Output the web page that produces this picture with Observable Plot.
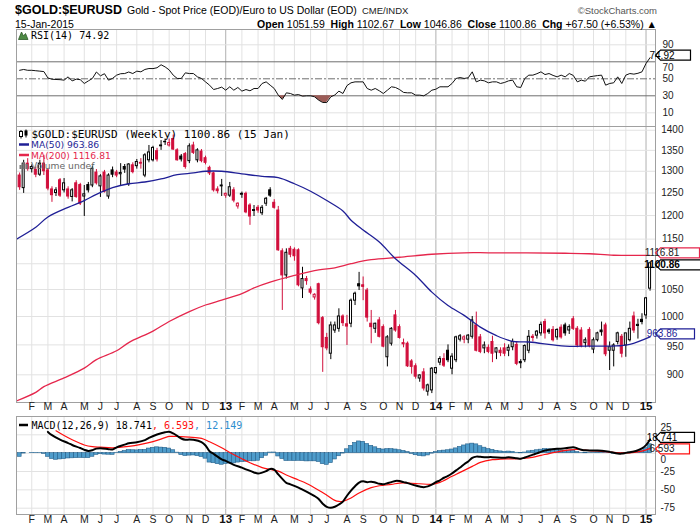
<!DOCTYPE html>
<html><head><meta charset="utf-8">
<script src="https://cdn.jsdelivr.net/npm/d3@7"></script>
<script src="https://cdn.jsdelivr.net/npm/@observablehq/plot@0.6"></script>
<style>
body{margin:0;background:#fff;}
#chart{position:relative;width:700px;height:530px;overflow:hidden;}
#chart .panel{position:absolute;left:0;}
</style></head><body><div id="chart"></div>
<script>
// ---------- data (weekly candles, Mondays from 16 Jan 2012) ----------
const opens = [1290,1261,1318,1305,1303,1292,1318,1302,1258,1250,1279,1256,1258,1241,1272,1268,1242,1268,1267,1297,1265,1297,1242,1302,1297,1293,1310,1270,1314,1312,1320,1290,1326,1326,1348,1360,1370,1362,1378,1350,1335,1341,1324,1362,1326,1347,1331,1308,1295,1258,1265,1244,1244,1256,1220,1246,1248,1222,1210,1217,1205,1226,1256,1228,1211,1125,1077,1130,1128,1127,1052,1070,1050,1035,1060,997,962,935,975,978,1000,986,987,1029,1060,1058,1048,987,978,993,981,929,952,1002,981,953,952,922,914,894,904,873,875,903,920,926,940,910,924,959,959,959,964,984,963,944,945,955,937,940,944,940,946,950,921,924,940,964,966,970,990,975,976,963,980,984,975,995,978,975,953,976,942,958,975,984,940,940,955,964,949,958,1000,983,994,1002,1051.59];
const highs = [1296,1326,1330,1315,1310,1326,1338,1306,1264,1262,1283,1283,1264,1260,1278,1272,1267,1274,1312,1304,1292,1302,1294,1310,1302,1318,1316,1318,1320,1328,1330,1342,1362,1360,1355,1374,1378,1378,1388,1354,1340,1345,1366,1370,1354,1352,1336,1312,1298,1264,1281,1250,1274,1262,1228,1252,1252,1226,1222,1222,1222,1240,1262,1235,1220,1130,1130,1135,1132,1130,1093,1075,1055,1042,1062,1000,970,990,990,1014,1003,1002,1032,1045,1083,1074,1052,1011,988,998,985,966,980,1011,985,960,955,925,918,900,910,885,912,912,930,935,950,935,965,968,966,968,1000,1008,968,955,950,965,945,945,952,950,960,955,925,950,975,968,975,990,995,978,982,978,985,988,985,1000,982,980,962,980,962,972,990,988,955,952,972,968,970,990,1008,995,1005,1035,1102.67];
const lows = [1256,1249,1300,1296,1285,1288,1290,1255,1229,1242,1240,1250,1236,1230,1238,1222,1198,1250,1262,1268,1240,1250,1236,1285,1285,1267,1295,1265,1294,1305,1305,1285,1320,1322,1322,1350,1362,1358,1350,1324,1322,1305,1318,1340,1320,1320,1315,1290,1252,1248,1242,1238,1240,1228,1214,1238,1204,1179,1198,1205,1200,1220,1240,1214,1125,1011,1070,1112,1105,1055,1033,1058,1040,1030,985,904,940,925,970,972,982,949,980,1020,1048,1029,990,952,970,962,945,913,948,972,960,945,912,901,893,888,874,866,870,900,915,912,920,900,920,955,952,952,960,938,935,935,935,920,925,930,930,930,940,915,910,920,935,955,960,965,960,968,955,958,960,965,968,975,945,945,945,945,935,955,965,930,907,913,950,928,929,955,970,960,985,995,1046.86];
const closes = [1263,1318,1305,1310,1292,1318,1300,1260,1245,1256,1244,1272,1242,1256,1241,1226,1247,1256,1306,1272,1288,1252,1290,1292,1290,1296,1304,1316,1298,1322,1318,1338,1345,1356,1328,1362,1371,1368,1352,1326,1328,1310,1360,1344,1350,1324,1320,1295,1256,1254,1267,1248,1263,1233,1226,1248,1207,1198,1212,1211,1217,1237,1244,1217,1127,1077,1122,1118,1115,1058,1070,1066,1044,1040,988,946,944,984,984,1000,988,982,1029,1042,1056,1055,998,981,987,964,947,963,978,975,962,951,914,913,897,899,878,883,910,911,926,915,924,930,963,965,963,966,993,940,938,949,938,935,944,936,935,945,955,918,919,948,964,962,973,985,970,972,958,976,963,970,981,978,949,948,958,948,958,970,972,934,946,949,970,935,970,978,975,985,990,1033.36,1100.86];

const ma50Weeks  = [-1,4,7,12,16,19,23,27,31,35,39,43,46,50,55,60,64,68,72,76,80,82,85,89,93,98,102,106,110,114,118,122,126,135,142,147,151,156];
const ma50Values = [1149,1175,1197,1218,1233,1247,1262,1271,1275,1282,1292,1296,1300,1300,1294,1288,1285,1271,1254,1233,1210,1190,1169,1144,1110,1077,1045,1020,1002,981,966,956,955,948,948,948,951,963.86];
const ma200Weeks  = [-1,4,6,11,16,19,24,27,33,37,42,46,50,55,58,62,68,74,78,82,87,94,102,110,116,135,141,147,156];
const ma200Values = [858,872,881,895,911,925,940,954,974,991,1009,1021,1030,1042,1053,1064,1077,1088,1092,1100,1108,1113,1119,1122,1122,1121,1120,1117,1116.81];

const rsiValues = [60,61,60,60,59.5,59,58.5,51,49.5,49.2,49,48.4,52.3,47.5,49.6,49,44.5,47.5,50.4,58,53.5,56,48.4,50.5,54.3,56,56.2,58,56.2,59,58.2,61,62.1,62,63,66.5,64,60.5,54.3,50.4,50.4,57,56.2,56.2,52.3,50.4,46.4,42.5,37.4,38.6,40.2,36.6,40.6,36.6,39.8,35.5,37.4,35.9,38.6,38.6,44.5,46.4,42.5,38.6,30.8,25.7,33.5,32.7,30.8,31.5,29.6,30,30,28.8,24.9,22.1,22.1,28.8,31,35.5,32.7,42,45.3,46.4,46.4,46.4,38.6,36.6,38.6,35.9,32.7,36.6,40.6,39.8,37.4,34,33.5,33.5,30.8,30.8,30,32.7,36.6,37.8,40.6,40.6,40.6,44.5,50.4,51.5,50.4,51.2,58.2,46.4,48.4,47.6,45.3,46.4,46.4,44.5,45.7,47.6,48.4,40.6,39.8,50.4,54.3,54.3,56,58.2,55,56.2,54,52.3,54.3,52.3,56.2,54,46.4,48.4,47.2,52.3,53.1,53.8,54.3,42.5,44.5,45.3,52.3,44.5,54.3,56.2,55.5,56.5,58.2,68,74.92];

const macdWeeks  = [7,8,10,12,13,15,16,17,18,19,20,22,23,24,26,27,29,31,32,34,36,37,38,39,40,41,42,43,45,46,47,48,50,51,53,55,56,58,59,60,61,62,63,64,65,66,67,69,70,72,73,74,75,76,77,78,79,80,81,82,83,84,85,86,87,88,89,90,91,92,93,94,95,96,97,98,99,100,101,102,103,104,105,106,107,108,109,110,111,112,113,114,115,117,120,121,123,124,125,126,127,128,129,130,131,133,135,137,138,139,140,143,145,146,147,148,149,150,151,152,153,154,155,156];
const macdValues = [29,24.5,18.5,13.8,11.2,7,4.5,3,4,6.2,6.8,5.5,5,8,11.6,13.5,15,17.8,20.8,25.5,28.5,29.1,27,23.5,20,18.3,18.6,18.2,15,10.5,2.7,-1,-8.5,-10.5,-15.9,-19.7,-22,-26.3,-27.7,-26.5,-24.5,-21.5,-22.5,-29,-35,-40.5,-42.5,-47,-49.7,-55.4,-58.5,-62.5,-69,-73.2,-74.5,-73,-70,-66,-58,-51,-45,-40,-38.4,-39.5,-38.8,-40,-41.8,-42.4,-40.9,-39.5,-37.8,-38,-39.5,-40.8,-42.5,-44.1,-45.5,-46.3,-45.3,-43,-39.5,-37,-33.5,-31,-27.5,-23.5,-19.5,-15,-11.3,-6.3,-4.7,-5,-5.4,-5.4,-6.2,-5.6,-6.8,-7.5,-6,-4,-2,-0.2,1.8,3.7,4.8,5.9,6.6,8.2,6.5,4.8,3.9,3.7,2.8,1.8,0.5,-0.4,-0.6,0.4,1.3,2.3,4,6.5,11,18.741];
const signalWeeks  = [9,11,13,16,18,20,23,27,30,33,36,37,40,42,45,47,50,52,55,57,60,62,64,66,69,71,74,76,78,79,80,82,84,87,89,92,94,97,99,102,104,107,109,112,114,117,119,121,124,126,129,131,134,136,138,141,144,146,149,151,154,156];
const signalValues = [30.5,24,18.2,11.2,8.9,8.2,7.3,9.3,12,15.7,21.2,22.8,22.6,21.9,20.2,15.5,7.3,1,-7.6,-13,-19.6,-22.3,-24.5,-29.8,-36.6,-41.3,-50.5,-57.3,-64.4,-65.8,-65.5,-61,-54.2,-47,-44.4,-42.6,-40.7,-41,-41.7,-42.4,-39.8,-31.5,-26.2,-18,-12.6,-8.9,-8.2,-7.8,-7.3,-6.5,-3,-0.5,2.8,4.4,5,3.5,2.5,1.5,0.5,0.5,2.8,6.593];
const histValues = [-5,-0.5,0,0.5,0.5,0.3,-1,-5,-8,-9,-8.5,-8,-7.2,-7,-6.8,-6.5,-6.7,-6.8,-4.9,-2.3,-1.4,-1.9,-2.1,-2.3,0.4,1.8,2.9,4.2,4,3.8,4.4,4.5,6.3,7.3,8,7.6,7.3,6.3,4,0.7,-2.6,-3.9,-3.3,-3.1,-4,-5.2,-7.5,-12.8,-13.7,-15,-15.8,-14.7,-14,-13.9,-12.8,-12.1,-11.7,-11,-11.1,-10.3,-6.9,-3.5,0.8,0.9,-4.5,-8,-10.7,-10.5,-10.7,-10.4,-10.7,-11.2,-11.1,-11.1,-12,-15,-15.9,-13.5,-8.6,-4.2,-0.5,5.3,10,14,16,15.5,12.5,10,8,6,5,5.5,5.5,5,4,3,1.5,-1,-2.8,-3.8,-4.4,-3.1,-0.6,1.5,2.8,3.5,4,5,6.5,8.5,10.5,12,13,12,9.5,7.5,5.5,4.5,3.2,2.4,1.8,2.2,1.6,0.6,-0.2,0.9,2.5,3.3,4,4.8,5.5,5.3,4.8,4.2,3.4,3,3,3.5,1.5,0.3,-0.1,0.3,0.5,0.9,0.7,0.8,0.3,-0.7,-1.2,-1.1,-0.1,0.8,1.1,2.1,3.7,6.7,12.149];

const priceTicks = [900,950,1000,1050,1150,1200,1250,1300,1350,1400];
const priceGrid  = [900,950,1000,1050,1100,1150,1200,1250,1300,1350,1400];
const rsiTicks   = [10,30,50,70,90];
const macdTicks  = [25,0,-25,-50,-75];
const monthLetters = ["J","F","M","A","M","J","J","A","S","O","N","D"];

// ---------- helpers ----------
const DAY = 864e5;
const weekStart = Date.UTC(2012, 0, 16);
const dateOf = w => new Date(weekStart + w * 7 * DAY);
const xDomain = [new Date(Date.UTC(2012, 0, 10, 14)), new Date(Date.UTC(2015, 0, 21, 10))];
const SANS = "'Liberation Sans', Arial, sans-serif";
const MONO = "'DejaVu Sans Mono', monospace";
const DEJA = "'DejaVu Sans', sans-serif";
const RED = "#d10f3c", NAVY = "#1f1f96", MA200C = "#e5264c";

const candles = closes.map((c, i) => {
  const prev = i ? closes[i - 1] : opens[i];
  const col = c < prev ? RED : "#000";
  return {date: dateOf(i), open: opens[i], high: highs[i], low: lows[i], close: c, color: col, fill: c >= opens[i] ? "#fff" : col};
});
const rsiData = rsiValues.map((v, i) => ({date: dateOf(i), rsi: v}));
const histData = histValues.map((v, i) => ({date: dateOf(i), h: v}));
const macdData = macdWeeks.map((w, k) => ({date: dateOf(w), v: macdValues[k]}));
const signalData = signalWeeks.map((w, k) => ({date: dateOf(w), v: signalValues[k]}));
const ma50Data = ma50Weeks.map((w, k) => ({date: dateOf(w), v: ma50Values[k]}));
const ma200Data = ma200Weeks.map((w, k) => ({date: dateOf(w), v: ma200Values[k]}));

const monthTicks = [];
for (let y = 2012; y <= 2015; y++) for (let m = 0; m < 12; m++) {
  const d = d3.utcMonday.ceil(new Date(Date.UTC(y, m, 1)));
  if (d >= xDomain[0] && d <= xDomain[1]) monthTicks.push({date: d, year: m === 0, label: m === 0 ? String(y % 100) : monthLetters[m]});
}

// value label on the right axis (arrow box), placed with the panel's y scale
function valueBox(value, label, o) {
  return (index, scales, values, dim) => {
    const y = scales.y(value) + (o.dy || 0);
    const x0 = dim.width - dim.marginRight;
    const h = o.h || 10, w = o.w;
    const g = d3.create("svg:g");
    g.append("path")
      .attr("d", `M${x0 + 0.5},${y}L${x0 + 5.5},${y - h / 2}H${x0 + 5.5 + w}V${y + h / 2}H${x0 + 5.5}Z`)
      .attr("fill", "#fff").attr("stroke", o.stroke).attr("stroke-width", 1.2);
    g.append("text").attr("x", x0 + 7).attr("y", y).attr("dy", "0.36em")
      .attr("fill", o.color).attr("font-size", (o.size || 10) + "px").attr("font-family", SANS)
      .attr("font-weight", o.bold ? "bold" : "normal").text(label);
    return g.node();
  };
}
const monthGrid = () => Plot.ruleX(monthTicks, {x: "date", stroke: d => d.year ? "#b0b0b0" : "#e2e2e2"});
const common = {
  width: 700, marginLeft: 16, marginRight: 45,
  x: {type: "utc", domain: xDomain, axis: null},
  color: {type: "identity"},
  style: {background: "none", overflow: "visible", fontFamily: SANS, fontSize: "10px"}
};
const monthLabels = (dy) => [
  Plot.text(monthTicks.filter(d => !d.year), {x: "date", text: "label", frameAnchor: "bottom", dy, fontSize: 10.5, fill: "#222"}),
  Plot.text(monthTicks.filter(d => d.year), {x: "date", text: "label", frameAnchor: "bottom", dy, fontSize: 11.5, fontWeight: "bold", fill: "#111"})
];
const tickText = (ticks, o) => Plot.text(ticks, {y: d => d, text: d => String(d), frameAnchor: "right", fontSize: 10, fill: "#222", ...o});

// ---------- RSI panel ----------
const rsiLast = rsiValues[rsiValues.length - 1];
const rsiPlot = Plot.plot({
  ...common, height: 97, marginTop: 0, marginBottom: 0,
  y: {domain: [-6.1, 108], axis: null},
  marks: [
    monthGrid(),
    Plot.ruleY([10, 90], {stroke: "#e2e2e2"}),
    Plot.ruleY([30, 70], {stroke: "#6e6e6e"}),
    Plot.ruleY([50], {stroke: "#6e6e6e", strokeDasharray: "7,2,2,2"}),
    Plot.areaY(rsiData, {x: "date", y1: () => 30, y2: d => Math.min(d.rsi, 30), fill: "#9c5c57"}),
    Plot.line(rsiData, {x: "date", y: "rsi", stroke: "#111", strokeWidth: 1}),
    Plot.frame({stroke: "#a0a0a0"}),
    tickText(rsiTicks.filter(t => t !== 70), {dx: 7, textAnchor: "start"}),
    tickText([70], {dx: 7, dy: 6, textAnchor: "start"}),
    valueBox(rsiLast, rsiLast.toFixed(2), {stroke: "#000", color: "#000", w: 30, dy: -2})
  ]
});

// ---------- price panel ----------
const last = closes.length - 1;
const ma50Last = ma50Values[ma50Values.length - 1], ma200Last = ma200Values[ma200Values.length - 1];
const mainPlot = Plot.plot({
  ...common, height: 290, marginTop: 0, marginBottom: 14,
  y: {type: "log", domain: [856.1, 1409.5], axis: null},
  marks: [
    monthGrid(),
    Plot.ruleY(priceGrid, {stroke: "#e2e2e2"}),
    Plot.ruleX(candles, {x: "date", y1: "low", y2: "high", stroke: "color", strokeWidth: 1}),
    Plot.rect(candles, {x1: d => new Date(+d.date - 1.75 * DAY), x2: d => new Date(+d.date + 1.75 * DAY), y1: "open", y2: "close", fill: "fill", stroke: "color", strokeWidth: 1}),
    Plot.line(ma200Data, {x: "date", y: "v", stroke: MA200C, strokeWidth: 1.3, curve: "catmull-rom", clip: true}),
    Plot.line(ma50Data, {x: "date", y: "v", stroke: NAVY, strokeWidth: 1.3, curve: "catmull-rom", clip: true}),
    Plot.frame({stroke: "#a0a0a0"}),
    tickText(priceTicks.filter(t => t !== 950), {dx: 28, textAnchor: "end"}),
    tickText([950], {dx: 28, dy: 1.5, textAnchor: "end"}),
    ...monthLabels(7),
    valueBox(ma200Last, ma200Last.toFixed(2), {stroke: MA200C, color: "#222", w: 39, dy: -2}),
    valueBox(closes[last], closes[last].toFixed(2), {stroke: "#000", color: "#000", bold: true, w: 41, dy: 2}),
    valueBox(ma50Last, ma50Last.toFixed(2), {stroke: NAVY, color: NAVY, w: 34, dy: -2.5})
  ]
});

// ---------- MACD panel ----------
const macdLast = macdValues[macdValues.length - 1], sigLast = signalValues[signalValues.length - 1];
const macdPlot = Plot.plot({
  ...common, height: 114, marginTop: 0, marginBottom: 16,
  y: {domain: [-83.6, 50], axis: null},
  marks: [
    monthGrid(),
    Plot.ruleY(macdTicks, {stroke: "#e2e2e2"}),
    Plot.rect(histData, {x1: d => new Date(+d.date - 3.5 * DAY), x2: d => new Date(+d.date + 3.5 * DAY), y1: () => 0, y2: "h", fill: "#4e9ccb", stroke: "#245f8a", strokeWidth: 0.6}),
    Plot.line(signalData, {x: "date", y: "v", stroke: "#ff1010", strokeWidth: 1.2, curve: "catmull-rom"}),
    Plot.line(macdData, {x: "date", y: "v", stroke: "#000", strokeWidth: 2, curve: "catmull-rom"}),
    Plot.frame({stroke: "#a0a0a0"}),
    tickText(macdTicks.filter(t => t < 0), {dx: 5, textAnchor: "start"}),
    tickText([25], {dx: 5, dy: -7, textAnchor: "start"}),
    tickText([0], {dx: 5, dy: 7, textAnchor: "start"}),
    ...monthLabels(8),
    valueBox(macdLast, macdLast.toFixed(3), {stroke: "#000", color: "#000", w: 34, dy: -1.5}),
    valueBox(sigLast, sigLast.toFixed(3), {stroke: "#ff1010", color: "#222", w: 29, dy: 1})
  ]
});

const chart = d3.select("#chart");
[[rsiPlot, 29], [mainPlot, 126], [macdPlot, 416]].forEach(([p, top]) => {
  chart.append("div").attr("class", "panel").style("top", top + "px").node().appendChild(p);
});

// ---------- header & legends (text overlay) ----------
const ov = chart.append("svg").attr("width", 700).attr("height", 530)
  .style("position", "absolute").style("left", 0).style("top", 0).style("pointer-events", "none");
function txt(x, y, s, o = {}) {
  return ov.append("text").attr("x", x).attr("y", y).attr("font-family", o.font || SANS)
    .attr("font-size", (o.size || 10) + "px").attr("font-weight", o.bold ? "bold" : null)
    .attr("fill", o.fill || "#000").attr("text-anchor", o.anchor || "start").style("white-space", "pre").text(s);
}
const t1 = txt(15, 14, "$GOLD:$EURUSD", {size: 12.5, bold: true});
const x2 = 15 + t1.node().getComputedTextLength() + 5;
const t2 = txt(x2, 14, "Gold - Spot Price (EOD)/Euro to US Dollar (EOD)", {size: 10.5});
txt(x2 + t2.node().getComputedTextLength() + 5, 14, "CME/INDX", {size: 9.5, fill: "#222"});
txt(657, 14, "\u00A9StockCharts.com", {size: 9.5, fill: "#555", anchor: "end"});
txt(15, 28, "15-Jan-2015", {size: 10.5});
const chg = closes[last] - closes[last - 1];
const info = txt(657, 28, "", {size: 10.5, anchor: "end"});
[["Open", 1], [" " + opens[last].toFixed(2) + "  ", 0], ["High", 1], [" " + highs[last].toFixed(2) + "  ", 0],
 ["Low", 1], [" " + lows[last].toFixed(2) + "  ", 0], ["Close", 1], [" " + closes[last].toFixed(2) + "  ", 0],
 ["Chg", 1], [" +" + chg.toFixed(2) + " (+" + (100 * chg / closes[last - 1]).toFixed(2) + "%) \u25B2", 0]]
  .forEach(([s, b]) => info.append("tspan").attr("font-weight", b ? "bold" : null).text(s));

// RSI legend
ov.append("path").attr("d", "M18.5,39.5L21.5,32L23.5,36L25.5,33.5L28,39.5Z").attr("fill", "#4e8a44").attr("stroke", "#2d5a27").attr("stroke-width", 0.8);
txt(31, 39.3, "RSI(14) " + rsiLast.toFixed(2), {font: MONO, size: 10});

// price legend
ov.append("line").attr("x1", 21).attr("x2", 21).attr("y1", 130).attr("y2", 138.5).attr("stroke", "#000");
ov.append("rect").attr("x", 19.5).attr("y", 131.5).attr("width", 3).attr("height", 5).attr("fill", "#fff").attr("stroke", "#000");
ov.append("line").attr("x1", 26).attr("x2", 26).attr("y1", 129.5).attr("y2", 137.5).attr("stroke", "#000");
ov.append("rect").attr("x", 24.5).attr("y", 130.5).attr("width", 3).attr("height", 5).attr("fill", "#000");
txt(31.5, 137.5, "$GOLD:$EURUSD (Weekly) " + closes[last].toFixed(2) + " (15 Jan)", {font: MONO, size: 11});
ov.append("line").attr("x1", 19).attr("x2", 29).attr("y1", 144.5).attr("y2", 144.5).attr("stroke", NAVY).attr("stroke-width", 2.5);
txt(31, 148, "MA(50) " + ma50Last.toFixed(2), {font: DEJA, size: 9.2, fill: NAVY});
ov.append("line").attr("x1", 19).attr("x2", 29).attr("y1", 155).attr("y2", 155).attr("stroke", MA200C).attr("stroke-width", 2.5);
txt(31, 158.5, "MA(200) " + ma200Last.toFixed(2), {font: DEJA, size: 9.2, fill: MA200C});
[[19.5, 4], [22.5, 7], [25.5, 5]].forEach(([x, h]) => ov.append("rect").attr("x", x).attr("y", 169 - h).attr("width", 2.2).attr("height", h).attr("fill", "#777"));
txt(31, 169, "Volume undef", {font: DEJA, size: 9.2, fill: "#666"});

// MACD legend
ov.append("line").attr("x1", 19).attr("x2", 28).attr("y1", 425).attr("y2", 425).attr("stroke", "#000").attr("stroke-width", 2.5);
const ml = txt(31.5, 428.5, "", {font: MONO, size: 10});
ml.append("tspan").attr("fill", "#000").text("MACD(12,26,9) " + macdLast.toFixed(3));
ml.append("tspan").attr("fill", "#ff1010").text(", " + sigLast.toFixed(3));
ml.append("tspan").attr("fill", "#2f8fd0").text(", " + histValues[histValues.length - 1].toFixed(3));
</script></body></html>
